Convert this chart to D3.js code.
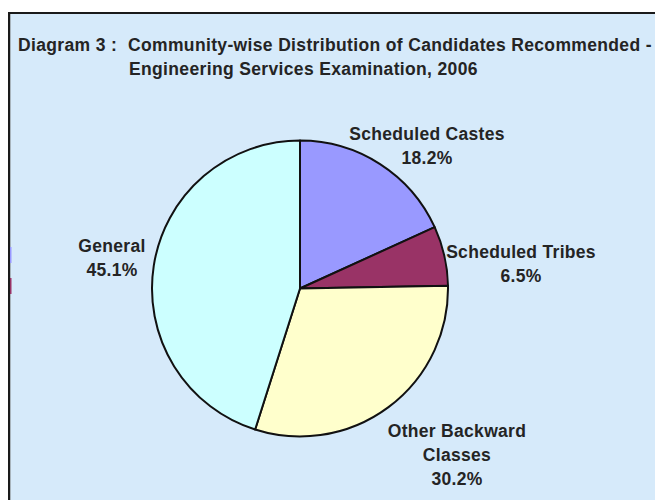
<!DOCTYPE html>
<html><head><meta charset="utf-8">
<script src="https://cdn.jsdelivr.net/npm/d3@7"></script>
<style>body{margin:0;background:#fff;}svg{display:block;}</style>
</head><body>
<svg id="c" width="655" height="500"></svg>
<script>
const categories = ["Scheduled Castes", "Scheduled Tribes", "Other Backward Classes", "General"];
const values = [18.2, 6.5, 30.2, 45.1];
const colors = ["#9999ff", "#993366", "#ffffcc", "#ccffff"];
const labelLines = [["Scheduled Castes", "18.2%"], ["Scheduled Tribes", "6.5%"], ["Other Backward", "Classes", "30.2%"], ["General", "45.1%"]];
const titleParts = ["Diagram 3 :", "Community-wise Distribution of Candidates Recommended -", "Engineering Services Examination, 2006"];

const svg = d3.select("#c");
svg.append("rect").attr("x", 9).attr("y", 12).attr("width", 646).attr("height", 488).attr("fill", "#d6eafa");
svg.append("line").attr("x1", 8).attr("x2", 655).attr("y1", 13).attr("y2", 13).attr("stroke", "#1a1a1a").attr("stroke-width", 2);
svg.append("line").attr("x1", 9).attr("x2", 9).attr("y1", 12).attr("y2", 500).attr("stroke", "#1a1a1a").attr("stroke-width", 2);
svg.append("line").attr("x1", 10.5).attr("x2", 10.5).attr("y1", 14).attr("y2", 500).attr("stroke", "#a8b4bc").attr("stroke-width", 1);
// legend remnants on left edge
svg.append("rect").attr("x", 10).attr("y", 247).attr("width", 1.5).attr("height", 16).attr("fill", colors[0]);
svg.append("rect").attr("x", 10).attr("y", 278).attr("width", 1.5).attr("height", 16).attr("fill", colors[1]);

const font = "Arial, 'Liberation Sans', sans-serif";
function txt(x, y, s, anchor) {
  return svg.append("text").attr("x", x).attr("y", y).attr("font-family", font).attr("font-weight", "bold")
    .attr("font-size", 17.5).attr("letter-spacing", 0.35).attr("fill", "#242424")
    .attr("text-anchor", anchor || "start").text(s);
}
txt(18, 51, titleParts[0]);
txt(128, 51, titleParts[1]);
txt(129, 75, titleParts[2]);

const cx = 300, cy = 288.5, r = 148;
const pie = d3.pie().sort(null).value(d => d)(values);
const arc = d3.arc().innerRadius(0).outerRadius(r);
const g = svg.append("g").attr("transform", `translate(${cx},${cy})`);
g.selectAll("path").data(pie).join("path")
  .attr("d", arc).attr("fill", (d, i) => colors[i])
  .attr("stroke", "#111").attr("stroke-width", 2).attr("stroke-linejoin", "round");

const labelPos = [[427, 140], [521, 258], [457, 437], [112, 252]];
labelLines.forEach((lines, i) => {
  const t = svg.append("text").attr("font-family", font).attr("font-weight", "bold").attr("font-size", 17.5)
    .attr("letter-spacing", 0.3).attr("fill", "#242424").attr("text-anchor", "middle");
  lines.forEach((s, j) => t.append("tspan").attr("x", labelPos[i][0]).attr("y", labelPos[i][1] + j * 23.8).text(s));
});
</script>
</body></html>
